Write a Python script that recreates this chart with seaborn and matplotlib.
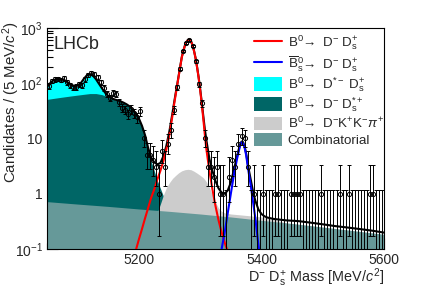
import numpy as np
import matplotlib
matplotlib.use("Agg")
import matplotlib.pyplot as plt
import seaborn as sns
from matplotlib.lines import Line2D
from matplotlib.patches import Patch
from matplotlib.ticker import FixedLocator, FixedFormatter, MultipleLocator, LogLocator, NullFormatter

# ─────────────────────────────────────────────
# 0. DATA
# ─────────────────────────────────────────────
# candidates per 5 MeV bin, bins from 5050 to 5600
counts = [
    88, 110, 118, 120, 116, 122, 104, 93, 84, 86,
    96, 92, 118, 140, 152, 145, 128, 104, 82, 65,
    55, 66, 64, 46, 36, 33, 28, 34, 29, 24,
    31, 10, 5, 5, 4, 3, 1, 6, 3, 8,
    14, 33, 84, 184, 388, 540, 615, 466, 250, 97,
    44, 10, 3, 3, 2, 3, 1, 1, 0, 2,
    4, 3, 8, 11, 10, 3, 0, 1, 0, 0,
    1, 0, 0, 0, 1, 1, 0, 0, 0, 1,
    1, 1, 1, 0, 0, 0, 0, 0, 0, 1,
    0, 0, 0, 0, 0, 1, 0, 0, 1, 0,
    0, 0, 0, 0, 0, 1, 1, 0, 0, 0,
]
bin_lo, bin_width = 5050, 5

# Poisson intervals used for the small-count error bars
poisson_lo = [0, 0.173, 0.708, 1.367, 2.086, 2.840, 3.620, 4.419, 5.232, 6.057, 6.891, 7.734, 8.585, 9.441, 10.30]
poisson_hi = [1.148, 3.300, 4.638, 5.918, 7.163, 8.382, 9.584, 10.77, 11.95, 13.11, 14.27, 15.42, 16.56, 17.70, 18.83]

# total fit
total_mass = [5050, 5055, 5060, 5065, 5070, 5075, 5080, 5085, 5090, 5095,
              5100, 5105, 5110, 5115, 5120, 5125, 5130, 5135, 5140, 5145,
              5150, 5155, 5160, 5165, 5170, 5175, 5180, 5185, 5190, 5195,
              5200, 5205, 5210, 5215, 5220, 5225, 5230, 5235, 5240, 5245,
              5250, 5255, 5257.5, 5260, 5262.5, 5265, 5267.5, 5270, 5272.5, 5275,
              5277.5, 5280, 5282.5, 5285, 5287.5, 5290, 5292.5, 5295, 5297.5, 5300,
              5302.5, 5305, 5307.5, 5310, 5315, 5320, 5325, 5330, 5335, 5340,
              5345, 5350, 5355, 5360, 5362.5, 5365, 5367.5, 5370, 5372.5, 5375,
              5377.5, 5380, 5382.5, 5385, 5387.5, 5390, 5395, 5400, 5405, 5410,
              5420, 5440, 5460, 5480, 5500, 5520, 5540, 5560, 5580, 5600]
total_yield = [87, 100, 112, 118, 119, 116, 110, 101, 93, 89,
               91, 100, 120, 139, 145, 137, 118, 97, 80, 67,
               59, 54, 51, 49, 47, 44.5, 41.5, 38, 33, 28,
               23, 17, 11.5, 6.8, 4.5, 3.7, 3.4, 3.6, 4.8, 7.5,
               14, 30, 45, 66, 95, 140, 205, 300, 385, 480,
               560, 610, 622, 580, 490, 385, 285, 195, 128, 78,
               46, 26, 15, 9.5, 4.3, 2.6, 1.7, 1.25, 1.05, 1.0,
               1.15, 1.6, 2.7, 4.7, 6.1, 7.7, 8.8, 8.6, 7.2, 5.4,
               3.6, 2.5, 1.8, 1.3, 0.95, 0.75, 0.52, 0.43, 0.39, 0.37,
               0.35, 0.33, 0.32, 0.30, 0.28, 0.26, 0.245, 0.23, 0.215, 0.198]

# B0 -> D- Ds+
b0_mass = [5190, 5195, 5200, 5205, 5210, 5215, 5220, 5225, 5230, 5235,
           5240, 5245, 5250, 5255, 5257.5, 5260, 5262.5, 5265, 5267.5, 5270,
           5272.5, 5275, 5277.5, 5280, 5282.5, 5285, 5287.5, 5290, 5292.5, 5295,
           5297.5, 5300, 5302.5, 5305, 5307.5, 5310, 5315, 5320, 5325, 5330,
           5335, 5340, 5345, 5350]
b0_yield = [0.06, 0.095, 0.15, 0.23, 0.36, 0.55, 0.85, 1.2, 1.8, 2.6,
            3.9, 6.5, 12, 27, 42, 62, 92, 136, 200, 295,
            380, 475, 555, 605, 620, 575, 485, 380, 280, 190,
            124, 74, 43, 23, 12, 6.5, 2.6, 1.2, 0.6, 0.33,
            0.2, 0.13, 0.09, 0.06]

# Bs -> D- Ds+
bs_mass = [5330, 5335, 5340, 5345, 5350, 5355, 5360, 5362.5, 5365, 5367.5,
           5370, 5372.5, 5375, 5377.5, 5380, 5382.5, 5385, 5390, 5395, 5400]
bs_yield = [0.05, 0.1, 0.2, 0.45, 1.0, 2.2, 4.2, 5.6, 7.3, 8.5,
            8.2, 6.8, 5.0, 3.2, 2.1, 1.4, 0.9, 0.36, 0.12, 0.045]

# B0 -> D*- Ds+ (stacked on top of D- Ds*+)
dstar_mass = [5050, 5055, 5060, 5065, 5070, 5075, 5080, 5085, 5090, 5095,
              5100, 5105, 5110, 5115, 5120, 5125, 5130, 5135, 5140, 5145,
              5150, 5155]
dstar_top = [85, 97, 109, 115, 116, 113, 107, 98, 90, 86,
             88, 97, 117, 135, 141, 133, 115, 94, 77, 64,
             57, 53]

# B0 -> D- Ds*+
dsstar_mass = [5050, 5060, 5070, 5080, 5090, 5100, 5110, 5120, 5130, 5140,
               5145, 5150, 5155, 5160, 5165, 5170, 5175, 5180, 5185, 5190,
               5195, 5200, 5205, 5210, 5215, 5220, 5225, 5230, 5235, 5240,
               5245, 5250, 5255, 5260, 5270, 5280, 5290]
dsstar_top = [51, 53, 55, 57, 59, 61, 63, 65, 65, 62,
              59, 56, 53, 50.5, 48.5, 46.5, 44, 41, 37.5, 32.5,
              27.5, 22.5, 16.5, 11, 6.3, 3.9, 2.6, 1.75, 1.25, 0.9,
              0.7, 0.57, 0.5, 0.45, 0.38, 0.32, 0.28]

# B0 -> D- K+ K- pi+
dkkpi_mass = [5230, 5235, 5240, 5245, 5250, 5255, 5260, 5265, 5270, 5275,
              5280, 5285, 5290, 5295, 5300, 5305, 5310, 5315, 5320, 5325,
              5330, 5335, 5340, 5350, 5360, 5380, 5400, 5420, 5440]
dkkpi_top = [0.45, 0.65, 0.95, 1.3, 1.6, 1.9, 2.15, 2.4, 2.6, 2.72,
             2.77, 2.72, 2.55, 2.35, 2.15, 1.95, 1.65, 1.3, 0.95, 0.7,
             0.55, 0.48, 0.45, 0.43, 0.42, 0.40, 0.38, 0.34, 0.30]

# combinatorial
comb_mass = [5050, 5100, 5150, 5200, 5250, 5300, 5350, 5400, 5450, 5500, 5550, 5600]
comb_top = [0.72, 0.65, 0.59, 0.53, 0.48, 0.43, 0.38, 0.33, 0.29, 0.25, 0.215, 0.185]

labels = [
    r"B$^{0}\!\rightarrow$ D$^{-}$ D$_{\rm s}^{+}$",
    r"$\overline{\rm B}{}_{\rm s}^{0}\!\rightarrow$ D$^{-}$ D$_{\rm s}^{+}$",
    r"B$^{0}\!\rightarrow$ D$^{*-}$ D$_{\rm s}^{+}$",
    r"B$^{0}\!\rightarrow$ D$^{-}$ D$_{\rm s}^{*+}$",
    r"B$^{0}\!\rightarrow$ D$^{-}$K$^{+}$K$^{-}\pi^{+}$",
    "Combinatorial",
]

# ─────────────────────────────────────────────
# 1. STYLE
# ─────────────────────────────────────────────
sns.set_theme(style="ticks")
plt.rcParams["font.family"] = ["Liberation Sans", "DejaVu Sans"]
plt.rcParams["mathtext.fontset"] = "custom"
plt.rcParams["mathtext.rm"] = "Liberation Sans"
plt.rcParams["mathtext.it"] = "Liberation Sans:italic"
plt.rcParams["mathtext.bf"] = "Liberation Sans:bold"

c_dstar = "#00ffff"
c_dsstar = "#006666"
c_dkkpi = "#cccccc"
c_comb = "#669999"

fig = plt.figure(figsize=(4.27, 2.90), dpi=100)
ax = fig.add_axes([0.1101, 0.1414, 0.7892, 0.7621])
ax.set_yscale("log")

# ─────────────────────────────────────────────
# 2. COMPONENTS
# ─────────────────────────────────────────────
floor = 1e-3
ax.fill_between(dstar_mass, dstar_top, floor, color=c_dstar, lw=0, zorder=1)
ax.fill_between(dsstar_mass, dsstar_top, floor, color=c_dsstar, lw=0, zorder=1.1)
ax.fill_between(dkkpi_mass, dkkpi_top, floor, color=c_dkkpi, lw=0, zorder=1.2)
ax.fill_between(comb_mass, comb_top, floor, color=c_comb, lw=0, zorder=1.3)

sns.lineplot(x=total_mass, y=total_yield, color="black", lw=1.5, ax=ax,
             estimator=None, sort=False, zorder=3)
sns.lineplot(x=b0_mass, y=b0_yield, color="red", lw=1.5, ax=ax,
             estimator=None, sort=False, zorder=3.2)
sns.lineplot(x=bs_mass, y=bs_yield, color="blue", lw=1.5, ax=ax,
             estimator=None, sort=False, zorder=3.2)

# ─────────────────────────────────────────────
# 3. DATA POINTS
# ─────────────────────────────────────────────
n = np.array(counts, dtype=float)
centers = bin_lo + bin_width * (np.arange(len(n)) + 0.5)
lo = np.array([poisson_lo[int(v)] if v < len(poisson_lo) else v - np.sqrt(v) for v in n])
hi = np.array([poisson_hi[int(v)] if v < len(poisson_hi) else v + np.sqrt(v) for v in n])

nz = n > 0
ax.errorbar(centers[nz], n[nz], yerr=[n[nz] - lo[nz], hi[nz] - n[nz]], fmt="o",
            mfc="none", mec="black", ms=3.0, mew=0.7, ecolor="black",
            elinewidth=0.7, capsize=1.2, capthick=0.7, zorder=5)
z = ~nz
ax.errorbar(centers[z], np.full(z.sum(), floor), yerr=[np.zeros(z.sum()), hi[z] - floor],
            fmt="none", ecolor="black", elinewidth=0.7, capsize=1.2, capthick=0.7, zorder=5)

# ─────────────────────────────────────────────
# 4. AXES
# ─────────────────────────────────────────────
ax.set_xlim(5050, 5600)
ax.set_ylim(0.1, 1000)
ax.xaxis.set_major_locator(FixedLocator([5200, 5400, 5600]))
ax.xaxis.set_minor_locator(MultipleLocator(50))
ax.yaxis.set_major_locator(FixedLocator([0.1, 1, 10, 100, 1000]))
ax.yaxis.set_major_formatter(FixedFormatter([r"10$^{-1}$", "1", "10", r"10$^{2}$", r"10$^{3}$"]))
ax.yaxis.set_minor_locator(LogLocator(base=10, subs=np.arange(2, 10)))
ax.yaxis.set_minor_formatter(NullFormatter())
ax.tick_params(which="both", direction="in", top=False, right=False,
               labelsize=10, width=0.8, color="black", pad=3)
ax.tick_params(which="major", length=8)
ax.tick_params(which="minor", length=4)
for s in ax.spines.values():
    s.set_linewidth(0.8)
    s.set_color("black")

ax.set_xlabel(r"D$^{-}$ D$_{\rm s}^{+}$ Mass [MeV/$c^{2}$]", fontsize=10.4, loc="right")
ax.xaxis.set_label_coords(1.0, -0.08)
ax.set_ylabel(r"Candidates / (5 MeV/$c^{2}$)", fontsize=10.8, loc="top")
ax.yaxis.set_label_coords(-0.074, 1.03)

ax.text(0.02, 0.965, "LHCb", transform=ax.transAxes, fontsize=13, va="top", ha="left")

handles = [
    Line2D([], [], color="red", lw=1.5),
    Line2D([], [], color="blue", lw=1.5),
    Patch(facecolor=c_dstar, edgecolor="none"),
    Patch(facecolor=c_dsstar, edgecolor="none"),
    Patch(facecolor=c_dkkpi, edgecolor="none"),
    Patch(facecolor=c_comb, edgecolor="none"),
]
ax.legend(handles, labels, loc="upper left", bbox_to_anchor=(0.605, 0.99),
          frameon=False, fontsize=9.6, handlelength=2.1, handleheight=1.2,
          labelspacing=0.12, handletextpad=0.4, borderpad=0.25, borderaxespad=0.0)

fig.savefig("out.png", dpi=100)
